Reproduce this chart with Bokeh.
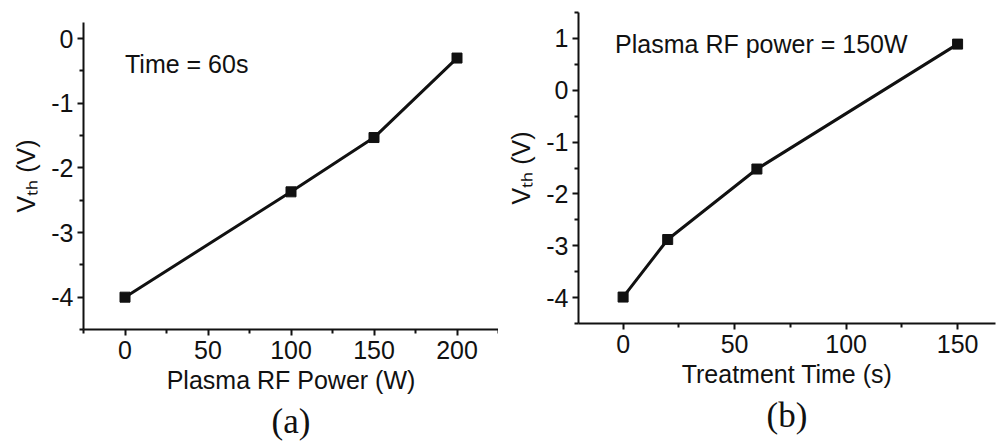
import numpy as np
from bokeh.plotting import figure
from bokeh.layouts import row, column
from bokeh.models import Range1d, FixedTicker, Label, Title
from bokeh.embed import file_html
from bokeh.resources import INLINE

# ---- data ----
power_w = [0, 100, 150, 200]
vth_power = [-4.0, -2.37, -1.53, -0.30]

time_s = [0, 20, 60, 150]
vth_time = [-3.99, -2.88, -1.52, 0.89]

a_xticks = [0, 50, 100, 150, 200]
a_xminor = [-25, 25, 75, 125, 175, 225]
a_yticks = [-4, -3, -2, -1, 0]
a_yminor = [-4.5, -3.5, -2.5, -1.5, -0.5]

b_xticks = [0, 50, 100, 150]
b_xminor = [-25, 25, 75, 125]
b_yticks = [-4, -3, -2, -1, 0, 1]
b_yminor = [-4.5, -3.5, -2.5, -1.5, -0.5, 0.5, 1.5]

SANS = "Liberation Sans"
SERIF = "Liberation Serif"
FS = "25px"
INK = "#111111"
W, H = 498, 447


def make_panel(x, y, xr, yr, xt, xm, yt, ym, xlabel, note, note_xy, caption,
               border_left, border_right, border_top, border_bottom):
    p = figure(width=W, height=H, output_backend="svg", toolbar_location=None,
               x_range=Range1d(*xr), y_range=Range1d(*yr),
               min_border_left=border_left, min_border_right=border_right,
               min_border_top=border_top, min_border_bottom=border_bottom)
    p.outline_line_color = None
    p.grid.visible = False
    p.background_fill_color = "white"
    p.border_fill_color = "white"

    p.xaxis.ticker = FixedTicker(ticks=xt, minor_ticks=xm)
    p.yaxis.ticker = FixedTicker(ticks=yt, minor_ticks=ym)
    p.xaxis.major_label_overrides = {v: str(v) for v in xt}
    p.yaxis.major_label_overrides = {v: str(v) for v in yt}

    for ax in (p.xaxis[0], p.yaxis[0]):
        ax.axis_line_width = 2
        ax.axis_line_color = INK
        ax.major_tick_line_width = 2
        ax.minor_tick_line_width = 2
        ax.major_tick_line_color = INK
        ax.minor_tick_line_color = INK
        ax.major_tick_in = 0
        ax.major_tick_out = 6
        ax.minor_tick_in = 0
        ax.minor_tick_out = 4
        ax.major_label_text_font = SANS
        ax.major_label_text_font_size = FS
        ax.major_label_text_color = INK
        ax.axis_label_text_font = SANS
        ax.axis_label_text_font_size = FS
        ax.axis_label_text_font_style = "normal"
        ax.axis_label_text_color = INK
    p.xaxis.major_label_standoff = 5
    p.xaxis.axis_label_standoff = 4
    p.yaxis.major_label_standoff = 4
    p.yaxis.axis_label_standoff = 8

    p.xaxis.axis_label = xlabel
    p.yaxis.axis_label = "V\u209c\u2095 (V)"

    p.line(x, y, line_width=3, line_color=INK)
    p.scatter(x, y, marker="square", size=10, fill_color=INK, line_color=INK)

    p.add_layout(Label(x=note_xy[0], y=note_xy[1], text=note, text_font=SANS,
                       text_font_size=FS, text_color=INK, text_baseline="middle"))

    p.add_layout(Title(text=caption, align="center", text_font=SERIF,
                       text_font_size="35px", text_font_style="normal",
                       text_color=INK, standoff=7), "below")
    return p


pa = make_panel(power_w, vth_power, (-25, 225), (-4.5, 0.25),
                a_xticks, a_xminor, a_yticks, a_yminor,
                "Plasma RF Power (W)", "Time = 60s", (0, -0.39), "(a)",
                83, 0, 22, 118)
pb = make_panel(time_s, vth_time, (-20, 167), (-4.5, 1.5),
                b_xticks, b_xminor, b_yticks, b_yminor,
                "Treatment Time (s)", "Plasma RF power = 150W", (-3.6, 0.9), "(b)",
                80, 1, 12, 124)

layout = row(column(pa), column(pb))
open("out.html", "w").write(file_html(layout, INLINE))
